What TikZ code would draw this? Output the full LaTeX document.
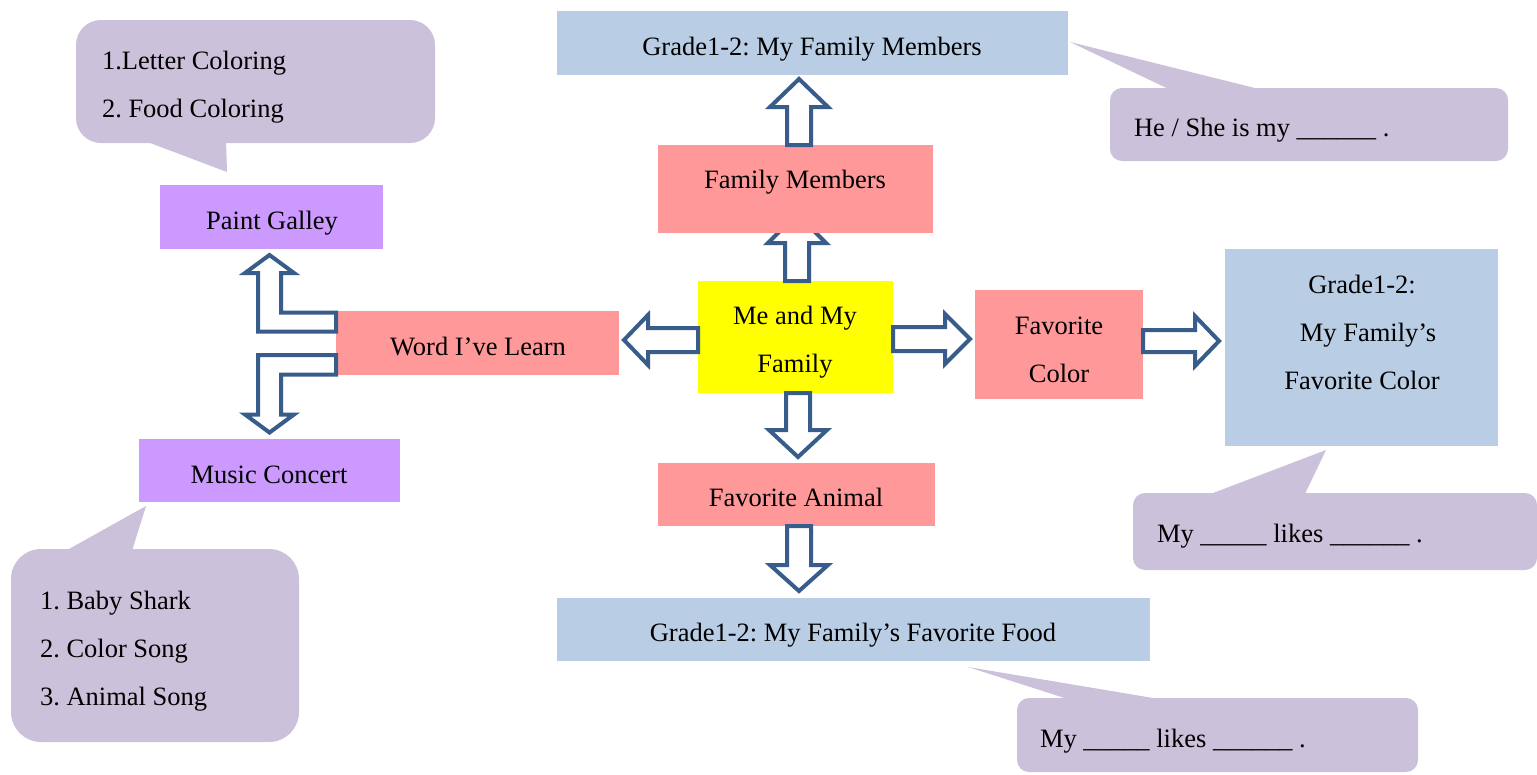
\documentclass[tikz,border=0pt]{standalone}
\usepackage{fontspec}
\setmainfont{Liberation Serif}
\usetikzlibrary{calc}
\frenchspacing
\definecolor{boxblue}{HTML}{B9CDE5}
\definecolor{boxpink}{HTML}{FF9999}
\definecolor{boxviolet}{HTML}{CC99FF}
\definecolor{boxyellow}{HTML}{FFFF00}
\definecolor{calloutc}{HTML}{CCC1DA}
\definecolor{arrowc}{HTML}{385D8A}
\pgfdeclarelayer{back}
\pgfdeclarelayer{mid}
\pgfdeclarelayer{front}
\pgfsetlayers{back,mid,main,front}
\begin{document}
\begin{tikzpicture}[x=1pt,y=-1pt,
  boxnode/.style={rectangle, draw=none, inner sep=0pt, outer sep=0pt},
  txt/.style={inner sep=0pt, outer sep=0pt, anchor=base, font=\fontsize{26.5}{48}\selectfont\frenchspacing},
  ltxt/.style={txt, anchor=base west},
  callout/.style={rectangle, fill=calloutc, draw=none, rounded corners=12pt, inner sep=0pt, outer sep=0pt},
  blockarrow/.style={draw=arrowc, line width=4pt, fill=white, line join=miter}]
\useasboundingbox (0,0) rectangle (1537,774);
\begin{pgfonlayer}{back}
  \fill[white] (0,0) rectangle (1537,774);
  \node[boxnode, fill=boxyellow, minimum width=195pt, minimum height=112pt] (me) at (795.5,337) {};
\end{pgfonlayer}
\begin{pgfonlayer}{mid}
  % Me and My Family -> Family Members (head hidden under box)
  \draw[blockarrow] ([xshift=-10.5pt]me.north) -- ++(0,-38) -- ++(-17,0) -- ++(29,-29) -- ++(29,29) -- ++(-17,0) -- ++(0,38) -- cycle;
\end{pgfonlayer}
% boxes
\node[boxnode, fill=boxblue, minimum width=511pt, minimum height=64pt] (gtop) at (812.5,43) {};
\node[boxnode, fill=boxpink, minimum width=275pt, minimum height=88pt] (fm) at (795.5,189) {};
\node[boxnode, fill=boxpink, minimum width=283pt, minimum height=64pt] (word) at (477.5,343) {};
\node[boxnode, fill=boxpink, minimum width=168pt, minimum height=109pt] (favc) at (1059,344.5) {};
\node[boxnode, fill=boxblue, minimum width=273pt, minimum height=197pt] (gright) at (1361.5,347.5) {};
\node[boxnode, fill=boxpink, minimum width=277pt, minimum height=63pt] (favan) at (796.5,494.5) {};
\node[boxnode, fill=boxblue, minimum width=593pt, minimum height=63pt] (gfood) at (853.5,629.5) {};
\node[boxnode, fill=boxviolet, minimum width=223pt, minimum height=64pt] (paint) at (271.5,217) {};
\node[boxnode, fill=boxviolet, minimum width=261pt, minimum height=63pt] (music) at (269.5,470.5) {};
% callouts
\node[callout, rounded corners=25pt, minimum width=359pt, minimum height=123pt] (c1) at (255.5,81.5) {};
\fill[calloutc] ($(c1.south west)+(61,-5)$) -- ($(c1.south west)+(150,-5)$) -- ($(c1.south west)+(151,29)$) -- cycle;
\node[callout, minimum width=398pt, minimum height=73pt] (c2) at (1309,124.5) {};
\fill[calloutc] ($(c2.north west)+(67,5)$) -- ($(c2.north west)+(165,5)$) -- ($(c2.north west)+(-40,-46)$) -- cycle;
\node[callout, minimum width=404pt, minimum height=77pt] (c3) at (1335,531.5) {};
\fill[calloutc] ($(c3.north west)+(67,5)$) -- ($(c3.north west)+(170,5)$) -- ($(c3.north west)+(193,-43)$) -- cycle;
\node[callout, minimum width=401pt, minimum height=74pt] (c4) at (1217.5,735) {};
\fill[calloutc] ($(c4.north west)+(63,5)$) -- ($(c4.north west)+(166,5)$) -- ($(c4.north west)+(-49,-31)$) -- cycle;
\node[callout, rounded corners=30pt, minimum width=288pt, minimum height=193pt] (c5) at (155,645.5) {};
\fill[calloutc] ($(c5.north west)+(49,5)$) -- ($(c5.north west)+(120,5)$) -- ($(c5.north west)+(135,-43)$) -- cycle;
% texts
\node[txt] (tgtop) at (812,55) {Grade1-2: My Family Members};
\node[txt] (tfm) at (795,188) {Family Members};
\node[txt] (tme) at (795,324) {\begin{tabular}[t]{@{}c@{}}Me and My\\Family\end{tabular}};
\node[txt] (tword) at (478,355) {Word I’ve Learn};
\node[txt] (tfavc) at (1059,334) {\begin{tabular}[t]{@{}c@{}}Favorite\\Color\end{tabular}};
\node[txt] (tgright) at (1362,293) {\begin{tabular}[t]{@{}c@{}}Grade1-2:\\\hspace*{12pt}My Family’s\\Favorite Color\end{tabular}};
\node[txt] (tfavan) at (796,506) {Favorite Animal};
\node[txt] (tgfood) at (853,641) {Grade1-2: My Family’s Favorite Food};
\node[txt] (tpaint) at (272,229) {Paint Galley};
\node[txt] (tmusic) at (269,483) {Music Concert};
\node[ltxt] (tc1) at (102,69) {\begin{tabular}[t]{@{}l@{}}1.Letter Coloring\\2. Food Coloring\end{tabular}};
\node[ltxt] (tc2) at (1134,136) {He / She is my \_\_\_\_\_\_ .};
\node[ltxt] (tc3) at (1157,542) {My \_\_\_\_\_ likes \_\_\_\_\_\_ .};
\node[ltxt] (tc4) at (1040,747) {My \_\_\_\_\_ likes \_\_\_\_\_\_ .};
\node[ltxt] (tc5) at (40,609) {\begin{tabular}[t]{@{}l@{}}1. Baby Shark\\2. Color Song\\3. Animal Song\end{tabular}};
% arrows
\begin{pgfonlayer}{front}
  \draw[blockarrow] ([xshift=-8.5pt]fm.north) -- ++(0,-38) -- ++(-17,0) -- ++(29,-28) -- ++(29,28) -- ++(-17,0) -- ++(0,38) -- cycle;
  \draw[blockarrow] ([yshift=9pt]me.west) -- ++(-50,0) -- ++(0,-13) -- ++(-24,25) -- ++(24,25) -- ++(0,-13) -- ++(50,0) -- cycle;
  \draw[blockarrow] ([yshift=10pt]me.east) -- ++(52,0) -- ++(0,-13) -- ++(25,25) -- ++(-25,25) -- ++(0,-13) -- ++(-52,0) -- cycle;
  \draw[blockarrow] ([yshift=14.5pt]favc.east) -- ++(52,0) -- ++(0,-14) -- ++(24,25) -- ++(-24,25) -- ++(0,-14) -- ++(-52,0) -- cycle;
  \draw[blockarrow] ([xshift=-9.5pt]me.south) -- ++(0,37) -- ++(-17,0) -- ++(29,27) -- ++(29,-27) -- ++(-17,0) -- ++(0,-37) -- cycle;
  \draw[blockarrow] ([xshift=-9.5pt]favan.south) -- ++(0,39) -- ++(-17,0) -- ++(29,26) -- ++(29,-26) -- ++(-17,0) -- ++(0,-39) -- cycle;
  \draw[blockarrow] ([yshift=30.5pt]word.west) -- ++(-55,0) -- ++(0,-39.5) -- ++(13,0) -- ++(-24.5,-18) -- ++(-24.5,18) -- ++(13,0) -- ++(0,58.5) -- ++(78,0) -- cycle;
  \draw[blockarrow] ([yshift=-12pt]word.west) -- ++(-78,0) -- ++(0,59.5) -- ++(-13,0) -- ++(24.5,18) -- ++(24.5,-18) -- ++(-13,0) -- ++(0,-40) -- ++(55,0) -- cycle;
\end{pgfonlayer}
\end{tikzpicture}
\end{document}
